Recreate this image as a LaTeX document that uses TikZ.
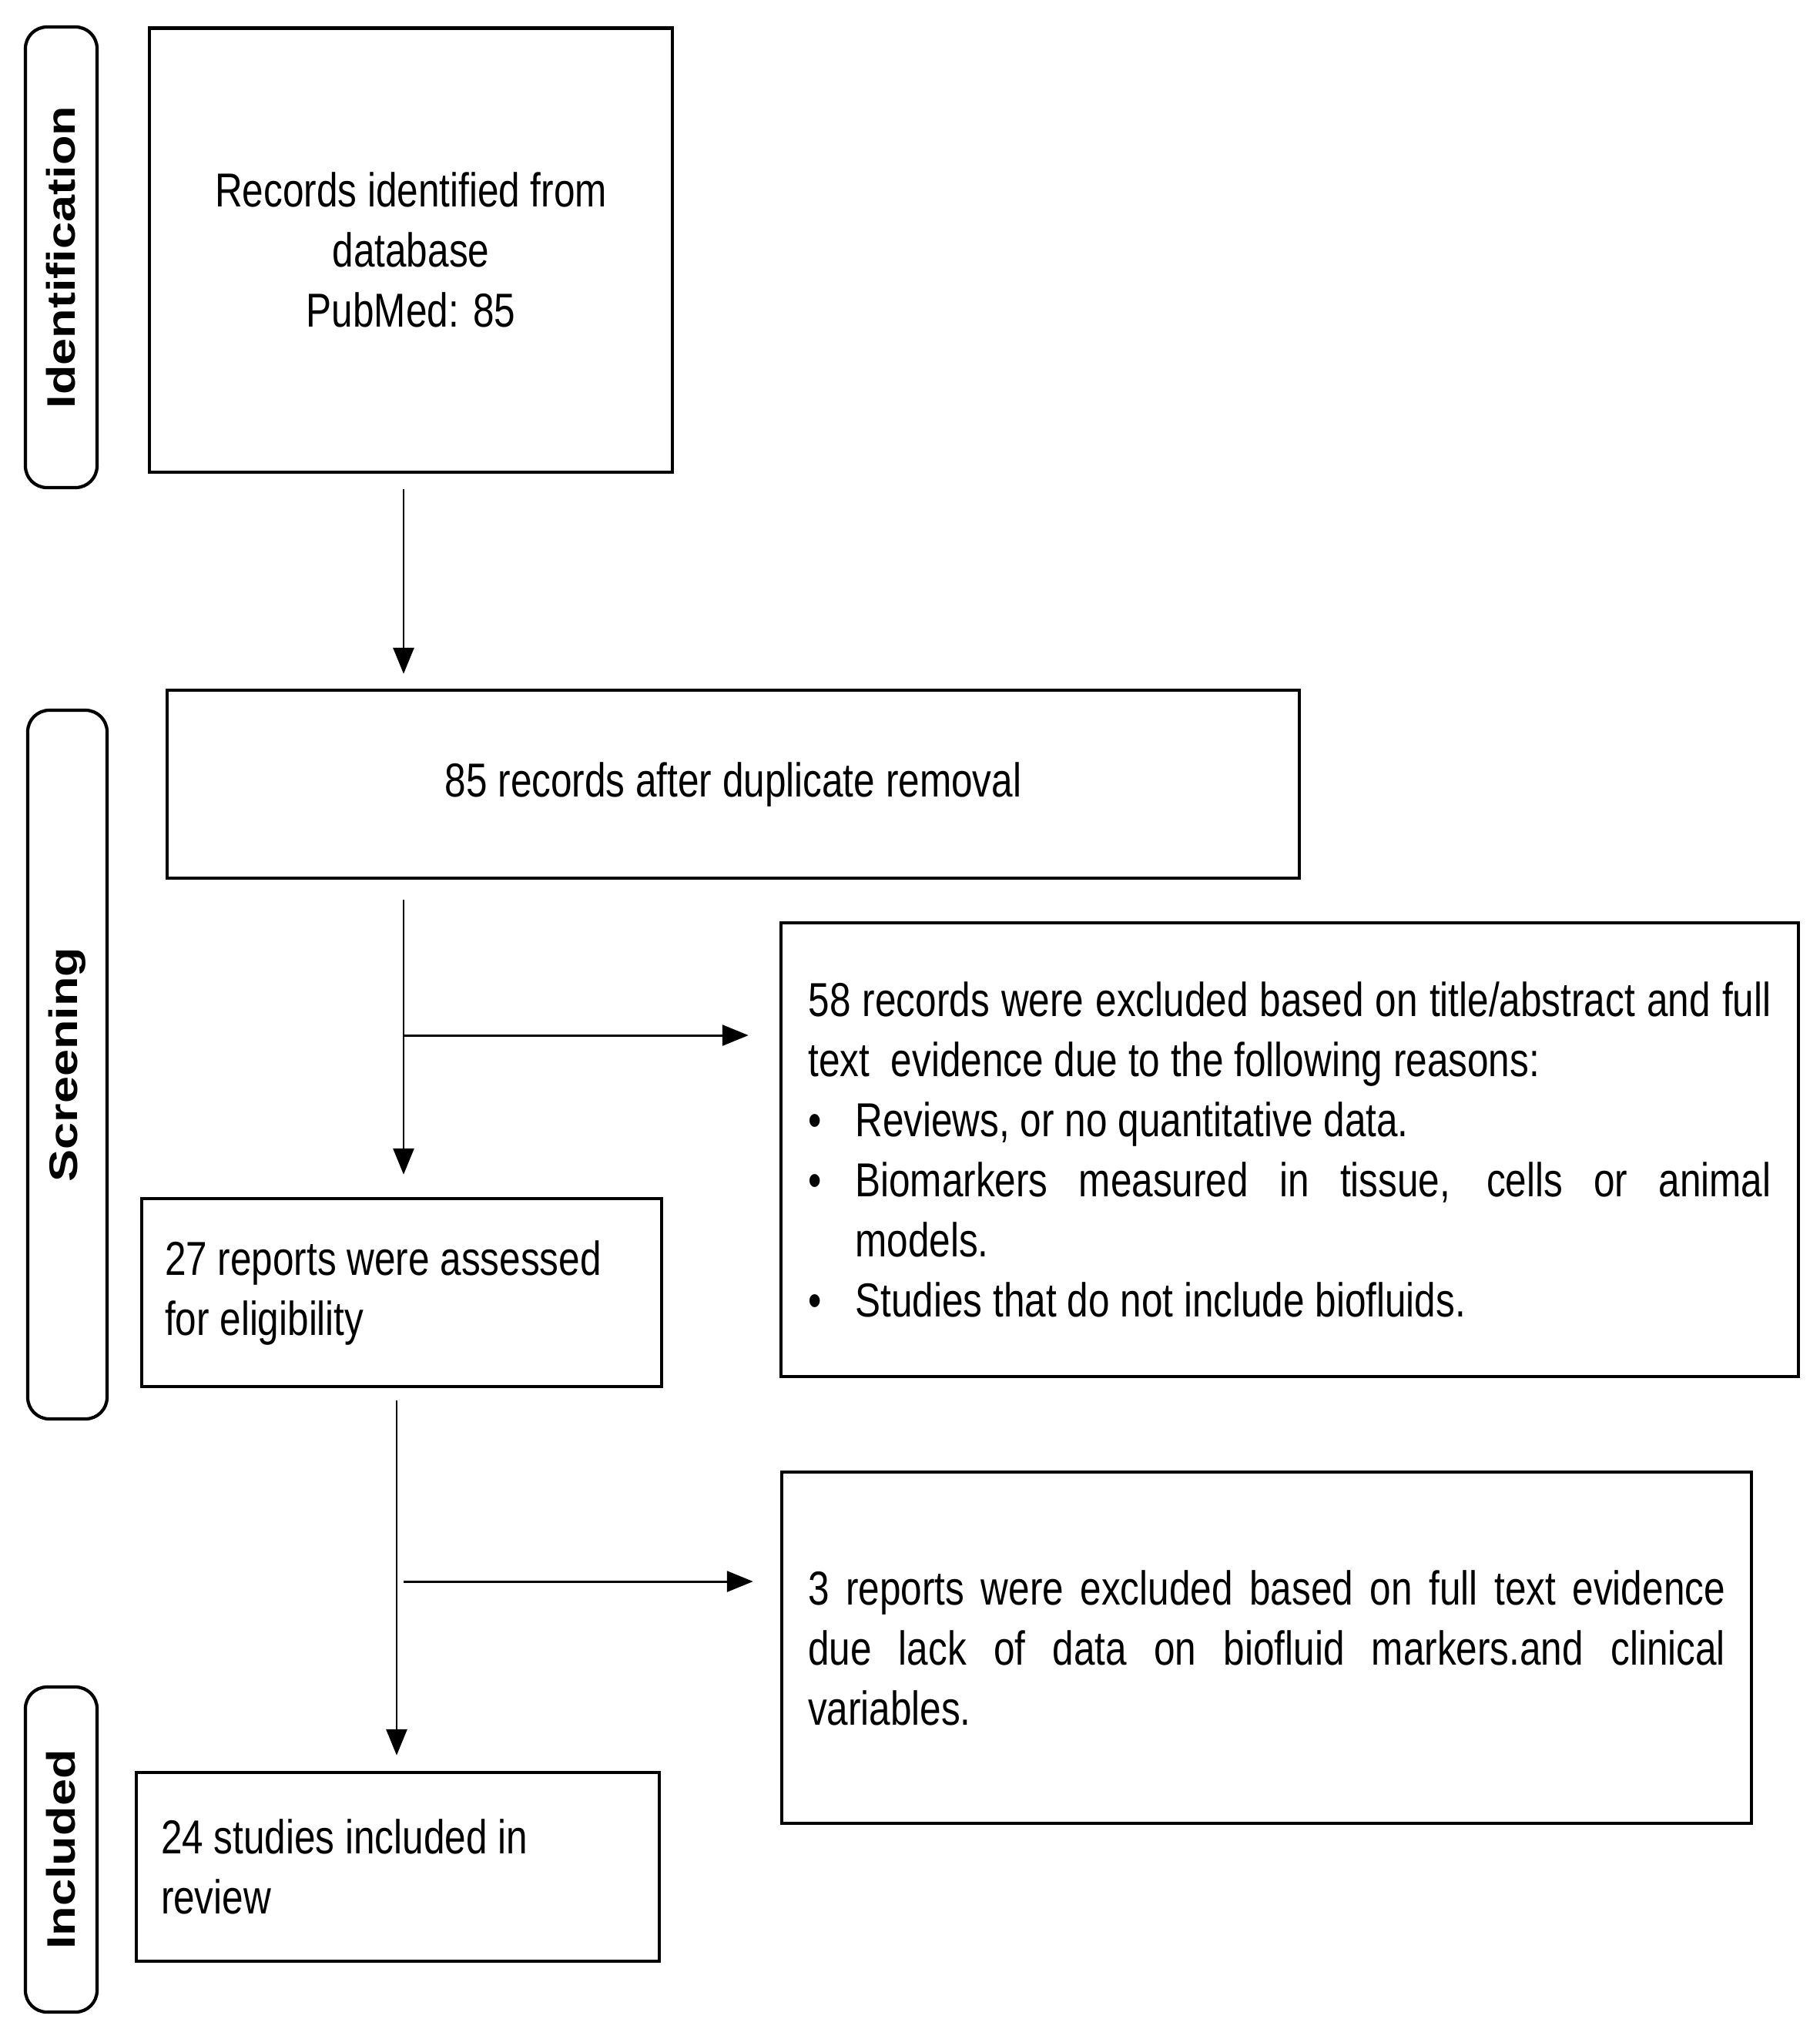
\documentclass[tikz,border=0pt]{standalone}
\usepackage{fontspec}
\newfontfamily\bodyfont[FakeStretch=0.8,WordSpace=0.8]{Liberation Sans}
\newfontfamily\labelfont[FakeStretch=1.22]{Liberation Sans}
\usetikzlibrary{arrows.meta}
\newcommand\pitem{\par\noindent\hangindent=0.61cm\hangafter=1\makebox[0.61cm][l]{•}}
\newcommand\bodysize{\bodyfont\fontsize{17.6pt}{22.2pt}\selectfont\spaceskip=0.138cm plus 0.07cm minus 0.04cm\relax}
\begin{document}
\begin{tikzpicture}[x=1cm,y=1cm,
  box/.style={draw, line width=1.28pt, inner ysep=0pt, font=\bodysize},
  stage/.style={draw, line width=1.2pt, rounded corners=0.28cm, rotate=90, inner sep=0pt,
    font=\labelfont\bfseries\fontsize{14.7pt}{17pt}\selectfont},
  arr/.style={line width=0.85pt, -{Triangle[length=0.34cm,width=0.27cm]}}]
\useasboundingbox (0,0) rectangle (23.63,-26.34);

% stage labels
\node[stage, minimum width=5.98cm, minimum height=0.93cm] (ident) at (0.795,-3.34) {Identification};
\node[stage, minimum width=9.20cm, minimum height=1.03cm] (screen) at (0.875,-13.82) {Screening};
\node[stage, minimum width=4.22cm, minimum height=0.93cm] (incl) at (0.795,-24.01) {Included};

% boxes
\node[box, align=flush center, text width=6.59cm, inner xsep=0.1cm, minimum height=5.765cm] (box1) at (5.335,-3.2475)
  {Records identified from\\database\\PubMed: 85};
\node[box, align=flush center, text width=14.5cm, inner xsep=0.1cm, minimum height=2.44cm] (box2) at (9.52,-10.18)
  {85 records after duplicate removal};
\node[box, align=justify, text width=12.5cm, inner xsep=0.355cm, minimum height=5.89cm] (box3) at (16.745,-14.925)
  {58 records were excluded based on title/abstract and full\linebreak text~~evidence due to the following reasons:%
   \pitem Reviews, or no quantitative data.%
   \pitem Biomarkers measured in tissue, cells or animal\linebreak models.%
   \pitem Studies that do not include biofluids.\par};
\node[box, align=flush left, text width=6.15cm, inner xsep=0.3cm, minimum height=2.44cm] (box4) at (5.215,-16.78)
  {27 reports were assessed\\for eligibility};
\node[box, align=justify, text width=11.91cm, inner xsep=0.34cm, minimum height=4.56cm] (box5) at (16.445,-21.39)
  {3 reports were excluded based on full text evidence\linebreak due lack of data on biofluid markers.and clinical\linebreak variables.\par};
\node[box, align=flush left, text width=6.15cm, inner xsep=0.32cm, minimum height=2.45cm] (box6) at (5.165,-24.235)
  {24 studies included in\\review};

% connectors
\coordinate (xa) at (5.24,0);
\coordinate (xb) at (5.15,0);
\coordinate (b1) at (5.24,-13.44);
\coordinate (b2) at (5.24,-20.53);
\draw[arr, shorten <=0.2cm, shorten >=0.19cm] (box1.south -| xa) -- (box2.north -| xa);
\draw[arr, shorten <=0.26cm, shorten >=0.29cm] (box2.south -| xa) -- (box4.north -| xa);
\draw[arr, shorten >=0.40cm] (b1) -- (box3.west |- b1);
\draw[arr, shorten <=0.16cm, shorten >=0.20cm] (box4.south -| xb) -- (box6.north -| xb);
\draw[arr, shorten >=0.35cm] (b2) -- (box5.west |- b2);
\end{tikzpicture}
\end{document}
